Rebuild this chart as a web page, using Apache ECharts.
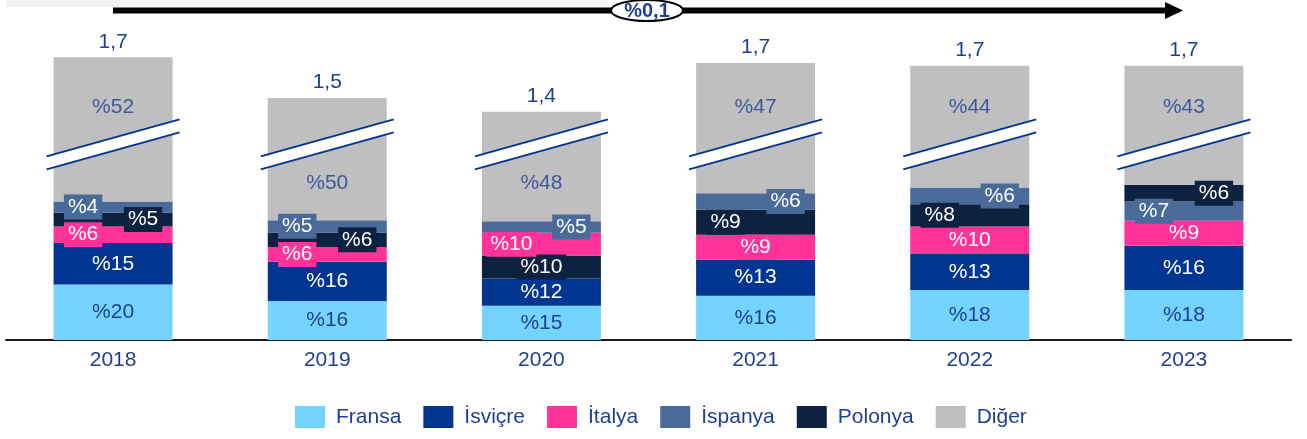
<!DOCTYPE html>
<html>
<head>
<meta charset="utf-8">
<script src="https://cdn.jsdelivr.net/npm/echarts@6/dist/echarts.min.js"></script>
<style>
html,body{margin:0;padding:0;background:#fff;}
#chart{width:1307px;height:439px;}
</style>
</head>
<body>
<div id="chart"></div>
<script>
// ---------------- DATA ----------------
const years   = ['2018', '2019', '2020', '2021', '2022', '2023'];
const totals  = [1.7, 1.5, 1.4, 1.7, 1.7, 1.7];
const fransa  = [20, 16, 15, 16, 18, 18];
const isvicre = [15, 16, 12, 13, 13, 16];
const italya  = [6, 6, 10, 9, 10, 9];
const ispanya = [4, 5, 5, 6, 6, 7];
const polonya = [5, 6, 10, 9, 8, 6];
const diger   = [52, 50, 48, 47, 44, 43];
const changeLabel = '%0,1';

const countries = ['Fransa', 'İsviçre', 'İtalya', 'İspanya', 'Polonya', 'Diğer'];
const shares = { 'Fransa': fransa, 'İsviçre': isvicre, 'İtalya': italya, 'İspanya': ispanya, 'Polonya': polonya, 'Diğer': diger };

// ---------------- LAYOUT / STYLE ----------------
const stackOrder = [
  ['Fransa', 'İsviçre', 'İtalya', 'Polonya', 'İspanya', 'Diğer'],
  ['Fransa', 'İsviçre', 'İtalya', 'Polonya', 'İspanya', 'Diğer'],
  ['Fransa', 'İsviçre', 'Polonya', 'İtalya', 'İspanya', 'Diğer'],
  ['Fransa', 'İsviçre', 'İtalya', 'Polonya', 'İspanya', 'Diğer'],
  ['Fransa', 'İsviçre', 'İtalya', 'Polonya', 'İspanya', 'Diğer'],
  ['Fransa', 'İsviçre', 'İtalya', 'İspanya', 'Polonya', 'Diğer']
];
const labelSide = {
  'İtalya':  [-1, -1, -1, 0, 0, 0],
  'Polonya': [1, 1, 0, -1, -1, 1],
  'İspanya': [-1, -1, 1, 1, 1, -1]
};
const colors = {
  'Fransa': '#75D3FF', 'İsviçre': '#003591', 'İtalya': '#FF3399',
  'İspanya': '#4A6A9A', 'Polonya': '#0D2240', 'Diğer': '#BFBFBF'
};
const BLUE_TEXT = '#1D3F94';
const textColors = {
  'Fransa': BLUE_TEXT, 'İsviçre': '#FFFFFF', 'İtalya': '#FFFFFF',
  'İspanya': '#FFFFFF', 'Polonya': '#FFFFFF', 'Diğer': BLUE_TEXT
};
const FONT = "'Liberation Sans', Arial, sans-serif";
const FS = 21;
const BAR_W = 119;
const BREAK_AT = 1.2;
const GRAY_LABEL_HIGH = 1.43, GRAY_LABEL_LOW = 0.96;

const fmt = v => String(v).replace('.', ',');
const segValue = (c, i) => shares[c][i] * totals[i] / 100;

// slot series (bottom -> top), colour per item by country
const slotSeries = [];
for (let s = 0; s < 6; s++) {
  slotSeries.push({
    type: 'bar',
    name: 'slot' + s,
    stack: 'total',
    barWidth: BAR_W,
    z: 2,
    data: years.map((y, i) => {
      const c = stackOrder[i][s];
      const side = labelSide[c] ? labelSide[c][i] : 0;
      const item = {
        value: segValue(c, i),
        itemStyle: { color: colors[c] }
      };
      if (c === 'Diğer') {
        item.label = {
          show: true, position: 'top', distance: 5,
          formatter: fmt(totals[i]),
          color: BLUE_TEXT, fontSize: FS, fontFamily: FONT
        };
      } else {
        item.label = {
          show: true, position: 'inside',
          offset: [side * 30, 0],
          formatter: '%' + shares[c][i],
          color: textColors[c], fontSize: FS, fontFamily: FONT, lineHeight: FS,
          backgroundColor: labelSide[c] ? colors[c] : 'transparent',
          padding: labelSide[c] ? [2, 4] : 0
        };
      }
      return item;
    })
  });
}

// legend-only series
const legendSeries = countries.map(c => ({
  type: 'bar', name: c, stack: 'total', barWidth: BAR_W,
  itemStyle: { color: colors[c] }, data: []
}));

// break marks
const breakSeries = {
  type: 'custom',
  name: 'break',
  z: 5,
  data: years.map((y, i) => [i, BREAK_AT]),
  renderItem: function (params, api) {
    const c = api.coord([api.value(0), api.value(1)]);
    const hw = BAR_W / 2 + 7, t = 6.5, dy = 18.5;
    const u0 = [c[0] - hw, c[1] - t + dy], u1 = [c[0] + hw, c[1] - t - dy];
    const l0 = [c[0] - hw, c[1] + t + dy], l1 = [c[0] + hw, c[1] + t - dy];
    return {
      type: 'group',
      children: [
        { type: 'polygon', shape: { points: [u0, u1, l1, l0] }, style: { fill: '#FFFFFF' } },
        { type: 'line', shape: { x1: u0[0], y1: u0[1], x2: u1[0], y2: u1[1] }, style: { stroke: '#003591', lineWidth: 2 } },
        { type: 'line', shape: { x1: l0[0], y1: l0[1], x2: l1[0], y2: l1[1] }, style: { stroke: '#003591', lineWidth: 2 } }
      ]
    };
  }
};

// gray (Diğer) share labels
const grayLabelSeries = {
  type: 'scatter',
  name: 'digerLabel',
  z: 6,
  symbolSize: 1,
  itemStyle: { color: 'rgba(0,0,0,0)' },
  data: years.map((y, i) => {
    const top = countries.reduce((a, c) => a + segValue(c, i), 0);
    return [i, top >= 1.6 ? GRAY_LABEL_HIGH : GRAY_LABEL_LOW];
  }),
  label: {
    show: true, position: 'inside',
    formatter: p => '%' + diger[p.dataIndex],
    color: BLUE_TEXT, fontSize: FS, fontFamily: FONT
  }
};

const chart = echarts.init(document.getElementById('chart'), null, { renderer: 'canvas' });
chart.setOption({
  animation: false,
  backgroundColor: '#FFFFFF',
  grid: { left: 6, right: 16, top: 14, bottom: 99 },
  xAxis: {
    type: 'category',
    data: years,
    axisTick: { show: false },
    axisLine: { show: true, lineStyle: { color: '#1a1a1a', width: 2 } },
    axisLabel: { color: BLUE_TEXT, fontSize: FS, fontFamily: FONT, margin: 10 }
  },
  yAxis: { type: 'value', min: 0, max: 2, show: false, splitLine: { show: false } },
  legend: {
    data: countries,
    left: 290, top: 401,
    itemWidth: 30, itemHeight: 22, itemGap: 22,
    icon: 'rect',
    textStyle: { color: BLUE_TEXT, fontSize: FS, fontFamily: FONT, padding: [0, 0, 0, 6] }
  },
  graphic: [
    { type: 'rect', shape: { x: 6, y: 0, width: 603, height: 7 }, style: { fill: '#F2F2F2' }, z: 1 },
    { type: 'line', shape: { x1: 113, y1: 10.5, x2: 1167, y2: 10.5 }, style: { stroke: '#000', lineWidth: 6 }, z: 2 },
    { type: 'polygon', shape: { points: [[1165, 2], [1183, 10.5], [1165, 19]] }, style: { fill: '#000' }, z: 2 },
    { type: 'ellipse', shape: { cx: 647, cy: 10.5, rx: 36, ry: 10.5 }, style: { fill: '#FFFFFF', stroke: '#000', lineWidth: 2 }, z: 3 },
    { type: 'text', x: 647, y: 11, z: 4,
      style: { text: changeLabel, fill: BLUE_TEXT, font: 'bold 20px ' + FONT, align: 'center', verticalAlign: 'middle' } }
  ],
  series: [...slotSeries, ...legendSeries, breakSeries, grayLabelSeries]
});
</script>
</body>
</html>
